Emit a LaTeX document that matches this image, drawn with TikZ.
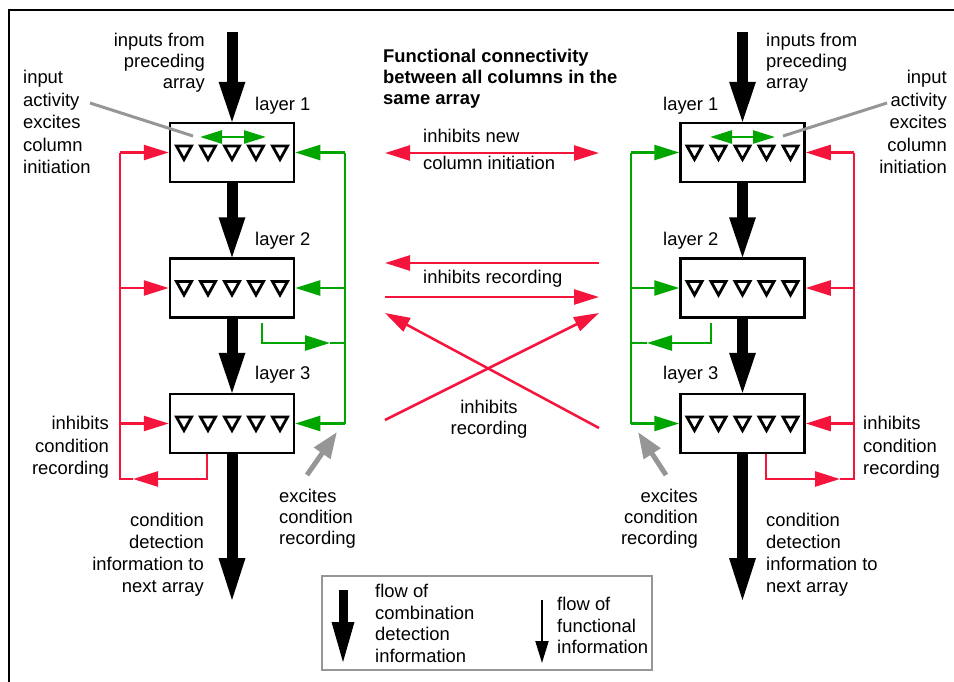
\documentclass[tikz,border=0pt]{standalone}
\usepackage{fontspec}
\setmainfont{Liberation Sans}
\usetikzlibrary{arrows.meta,calc}
\definecolor{ired}{RGB}{245,20,60}
\definecolor{egreen}{RGB}{0,165,0}
\definecolor{pgray}{RGB}{150,150,150}
\newcommand\flowarrow[5]{%
  \fill ($(#1)+(-#3,0)$) rectangle ($(#2)+(#3,-#5+1)$);
  \fill ($(#2)+(-#4,-#5)$) -- (#2) -- ($(#2)+(#4,-#5)$) -- cycle;}
\begin{document}
\begin{tikzpicture}[x=1pt,y=-1pt,
 layerbox/.style={draw, line width=2.5pt, fill=white, minimum width=124pt, minimum height=59pt, inner sep=0pt},
 tri/.style={draw, line width=2.8pt},
 lbl/.style={inner sep=0pt, font=\fontsize{18.4pt}{#1pt}\selectfont},
 lbl/.default=21.5,
 redln/.style={draw=ired, line width=2.5pt},
 grnln/.style={draw=egreen, line width=2.5pt},
 hd/.style={-{Triangle[length=25pt,width=15pt]}},
 hdd/.style={{Triangle[length=22pt,width=13pt]}-{Triangle[length=22pt,width=13pt]}},
 grayptr/.style={draw=pgray, line width=3pt},
 grayarr/.style={draw=pgray, line width=5pt, -{Triangle[length=26pt,width=19pt]}},
]
\useasboundingbox (0,0) rectangle (954,681);
% frame
\draw[line width=2.5pt] (9,700) -- (9,10) -- (970,10);

% layer boxes
\node[layerbox] (L1) at (232,152.5) {};
\node[layerbox] (L2) at (232,288) {};
\node[layerbox] (L3) at (232,423.5) {};
\node[layerbox] (R1) at (742.5,152.5) {};
\node[layerbox] (R2) at (742.5,288) {};
\node[layerbox] (R3) at (742.5,423.5) {};
\foreach \b in {L1,L2,L3,R1,R2,R3}
  \foreach \dx in {-48,-24,0,24,48}
    \draw[tri] ($(\b.center)+(\dx-7.5,-6.5)$) -- ++(15,0) -- ++(-7.5,13.5) -- cycle;

% thick flow arrows
\coordinate (inL) at (232,32);
\coordinate (outL) at (232,600);
\coordinate (inR) at (742.5,32);
\coordinate (outR) at (742.5,600);
\flowarrow{inL}{L1.north}{5.5}{13.5}{40}
\flowarrow{L1.south}{L2.north}{5.5}{13.5}{40}
\flowarrow{L2.south}{L3.north}{5.5}{13.5}{40}
\flowarrow{L3.south}{outL}{5.5}{13.5}{42}
\flowarrow{inR}{R1.north}{5.5}{13.5}{40}
\flowarrow{R1.south}{R2.north}{5.5}{13.5}{40}
\flowarrow{R2.south}{R3.north}{5.5}{13.5}{40}
\flowarrow{R3.south}{outR}{5.5}{13.5}{42}

% green double arrows in layer 1
\coordinate (gdL1) at ($(L1.center)+(-32,-15.5)$);
\coordinate (gdL2) at ($(L1.center)+(34,-15.5)$);
\coordinate (gdR1) at ($(R1.center)+(-32.5,-15.5)$);
\coordinate (gdR2) at ($(R1.center)+(32.5,-15.5)$);
\draw[grnln,hdd] (gdL1) -- (gdL2);
\draw[grnln,hdd] (gdR1) -- (gdR2);

% gray pointers
\coordinate (gpL) at (90,103);
\coordinate (gpLe) at (193,136);
\coordinate (gpR) at (887,103);
\coordinate (gpRe) at (783,136);
\draw[grayptr] (gpL) -- (gpLe);
\draw[grayptr] (gpR) -- (gpRe);

% left red feedback
\coordinate (rlT) at (120,152.5);
\coordinate (rlB) at (120,479);
\coordinate (rlTip) at (133,479);
\coordinate (rl3o) at ($(L3.south)+(-25,0)$);
\draw[redln] (rlT) -- (rlB) -- (rlTip);
\draw[redln,hd] (rlT) -- (L1.west);
\draw[redln,hd] (rlT |- L2.west) -- (L2.west);
\draw[redln,hd] (rlT |- L3.west) -- (L3.west);
\draw[redln,hd] (rl3o) |- (rlTip);

% left green feedback
\coordinate (glT) at (345,152.5);
\coordinate (glB) at (345,423.5);
\coordinate (g2s) at ($(L2.south)+(30,4)$);
\coordinate (g2tip) at (330,343);
\draw[grnln] (glT) -- (glB);
\draw[grnln,hd] (glT) -- (L1.east);
\draw[grnln,hd] (glT |- L2.east) -- (L2.east);
\draw[grnln,hd] (glB) -- (L3.east);
\draw[grnln,hd] (g2s) |- (g2tip);
\draw[grnln] (g2tip) -- (glT |- g2tip);

% right green feedback
\coordinate (grT) at (631,152.5);
\coordinate (grB) at (631,423.5);
\coordinate (g2sR) at ($(R2.south)+(-31.5,4)$);
\coordinate (g2tipR) at (647,343);
\draw[grnln] (grT) -- (grB);
\draw[grnln,hd] (grT) -- (R1.west);
\draw[grnln,hd] (grT |- R2.west) -- (R2.west);
\draw[grnln,hd] (grB) -- (R3.west);
\draw[grnln,hd] (g2sR) |- (g2tipR);
\draw[grnln] (g2tipR) -- (grT |- g2tipR);

% right red feedback
\coordinate (rrT) at (854,152.5);
\coordinate (rrB) at (854,479);
\coordinate (rrTip) at (840,479);
\coordinate (rr3o) at ($(R3.south)+(23.5,0)$);
\draw[redln] (rrT) -- (rrB) -- (rrTip);
\draw[redln,hd] (rrT) -- (R1.east);
\draw[redln,hd] (rrT |- R2.east) -- (R2.east);
\draw[redln,hd] (rrT |- R3.east) -- (R3.east);
\draw[redln,hd] (rr3o) |- (rrTip);

% gray excite arrows
\coordinate (gaL) at (307,475);
\coordinate (gaLt) at (337,432);
\coordinate (gaR) at (666,475);
\coordinate (gaRt) at (638,432);
\draw[grayarr] (gaL) -- (gaLt);
\draw[grayarr] (gaR) -- (gaRt);

% middle red arrows
\coordinate (m1a) at (385,153);
\coordinate (m1b) at (599,153);
\coordinate (m2a) at (599,263);
\coordinate (m2b) at (385,263);
\coordinate (m3a) at (385,297);
\coordinate (m3b) at (599,297);
\coordinate (m4a) at (599,428);
\coordinate (m4b) at (385,313);
\coordinate (m5a) at (385,420);
\coordinate (m5b) at (599,313);
\draw[redln,{Triangle[length=25pt,width=15pt]}-{Triangle[length=25pt,width=15pt]}] (m1a) -- (m1b);
\draw[redln,hd] (m2a) -- (m2b);
\draw[redln,hd] (m3a) -- (m3b);
\draw[redln,hd] (m4a) -- (m4b);
\draw[redln,hd] (m5a) -- (m5b);

% labels left
\node[lbl=21, align=right, anchor=north east] (tInL) at (205,33) {inputs from\\preceding\\array};
\node[lbl=22.5, align=left, anchor=north west] (tIaL) at (23,70) {input\\activity\\excites\\column\\initiation};
\node[lbl, anchor=base west] (tL1) at (255,110) {layer 1};
\node[lbl, anchor=base west] (tL2) at (255,245) {layer 2};
\node[lbl, anchor=base west] (tL3) at (255,379) {layer 3};
\node[lbl=22.5, align=right, anchor=north east] (tIcL) at (109,416) {inhibits\\condition\\recording};
\node[lbl=21, align=left, anchor=north west] (tEcL) at (279,489) {excites\\condition\\recording};
\node[lbl=22, align=right, anchor=north east] (tCdL) at (204,513) {condition\\detection\\information to\\next array};

% labels middle
\node[lbl=21, align=left, anchor=north west, font=\fontsize{18.4pt}{21pt}\selectfont\bfseries] (tTitle) at (383,49) {Functional connectivity\\between all columns in the\\same array};
\node[lbl, anchor=base west] (tInh1) at (423,142) {inhibits new};
\node[lbl, anchor=base west] (tInh2) at (423,169) {column initiation};
\node[lbl, anchor=base west] (tInh3) at (423,283) {inhibits recording};
\node[lbl=21, align=center, anchor=north] (tInh4) at (489,400) {inhibits\\recording};

% labels right
\node[lbl=21, align=left, anchor=north west] (tInR) at (766,33) {inputs from\\preceding\\array};
\node[lbl=22.5, align=right, anchor=north east] (tIaR) at (947,70) {input\\activity\\excites\\column\\initiation};
\node[lbl, anchor=base west] (tR1) at (663,110) {layer 1};
\node[lbl, anchor=base west] (tR2) at (663,245) {layer 2};
\node[lbl, anchor=base west] (tR3) at (663,379) {layer 3};
\node[lbl=22.5, align=left, anchor=north west] (tIcR) at (863,416) {inhibits\\condition\\recording};
\node[lbl=21, align=right, anchor=north east] (tEcR) at (698,489) {excites\\condition\\recording};
\node[lbl=22, align=left, anchor=north west] (tCdR) at (766,513) {condition\\detection\\information to\\next array};

% legend
\node[draw=pgray, line width=2.5pt, minimum width=330pt, minimum height=94pt, inner sep=0pt] (leg) at (487,623) {};
\coordinate (lg1s) at (343,590);
\coordinate (lg1t) at (343,662);
\flowarrow{lg1s}{lg1t}{4.5}{11.5}{40}
\coordinate (lg2s) at (542,600);
\coordinate (lg2t) at (542,663);
\draw[line width=2pt, -{Triangle[length=22pt,width=13pt]}] (lg2s) -- (lg2t);
\node[lbl=21.7, align=left, anchor=north west] (tLg1) at (375,584) {flow of\\combination\\detection\\information};
\node[lbl=21.5, align=left, anchor=north west] (tLg2) at (557,597) {flow of\\functional\\information};
\end{tikzpicture}
\end{document}
